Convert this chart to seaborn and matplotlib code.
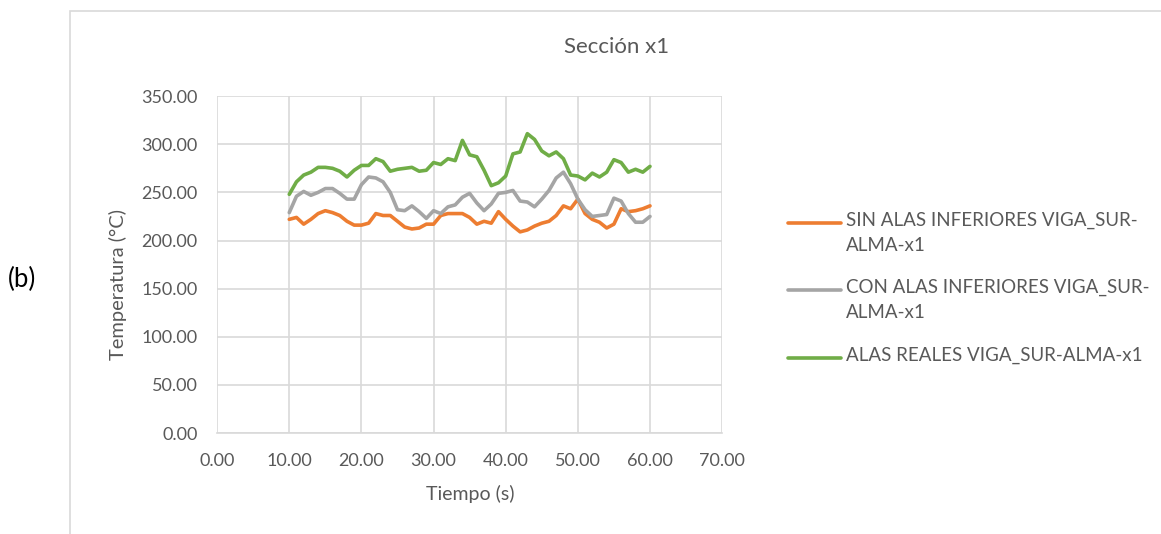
import numpy as np
import pandas as pd
import matplotlib.pyplot as plt
import seaborn as sns
from matplotlib.lines import Line2D
from matplotlib.patches import Rectangle

# --- data (one value per second, 10..60 s) ---
tiempo = list(range(10, 61))

sin_alas = [222, 224, 217, 222, 228, 231, 229, 226, 220, 216,
            216, 218, 228, 226, 226, 220, 214, 212, 213, 217,
            217, 226, 228, 228, 228, 224, 217, 220, 218, 230,
            222, 215, 209, 211, 215, 218, 220, 226, 236, 233,
            243, 228, 222, 219, 213, 217, 233, 230, 231, 233, 236]

con_alas = [229, 246, 251, 247, 250, 254, 254, 249, 243, 243,
            258, 266, 265, 261, 250, 232, 231, 236, 230, 223,
            231, 228, 235, 237, 245, 249, 239, 231, 238, 249,
            250, 252, 241, 240, 235, 243, 252, 265, 271, 259,
            243, 232, 225, 226, 227, 244, 241, 228, 219, 219, 225]

alas_reales = [248, 261, 268, 271, 276, 276, 275, 272, 266, 273,
               278, 278, 285, 282, 272, 274, 275, 276, 272, 273,
               281, 279, 285, 283, 304, 289, 287, 273, 257, 260,
               267, 290, 292, 311, 305, 293, 288, 292, 285, 268,
               267, 263, 270, 266, 271, 284, 281, 271, 274, 271, 277]

series_names = ["SIN ALAS INFERIORES VIGA_SUR-ALMA-x1",
                "CON ALAS INFERIORES VIGA_SUR-ALMA-x1",
                "ALAS REALES VIGA_SUR-ALMA-x1"]
legend_labels = ["SIN ALAS INFERIORES VIGA_SUR-\nALMA-x1",
                 "CON ALAS INFERIORES VIGA_SUR-\nALMA-x1",
                 "ALAS REALES VIGA_SUR-ALMA-x1"]
colors = ["#ED7D31", "#A5A5A5", "#70AD47"]

x_ticks = [0, 10, 20, 30, 40, 50, 60, 70]
y_ticks = [0, 50, 100, 150, 200, 250, 300, 350]

df = pd.DataFrame({
    "Tiempo": tiempo * 3,
    "Temp": sin_alas + con_alas + alas_reales,
    "Serie": np.repeat(series_names, len(tiempo)),
})

sns.set_theme(style="whitegrid")
plt.rcParams["font.family"] = ["Lato", "DejaVu Sans"]
TXT = "#595959"
GRID = "#D9D9D9"

fig = plt.figure(figsize=(11.61, 5.34), dpi=100)
ax = fig.add_axes([0.187, 0.189, 0.435, 0.631])

sns.lineplot(data=df, x="Tiempo", y="Temp", hue="Serie", palette=colors,
             linewidth=2.6, legend=False, ax=ax)

ax.set_xlim(0, 70)
ax.set_ylim(0, 350)
ax.set_xticks(x_ticks)
ax.set_yticks(y_ticks)
ax.set_xticklabels([f"{v:.2f}" for v in x_ticks])
ax.set_yticklabels([f"{v:.2f}" for v in y_ticks])
ax.tick_params(colors=TXT, labelsize=13, length=0, pad=14)
ax.grid(True, color=GRID, linewidth=1.2)
for s in ["top", "right", "left"]:
    ax.spines[s].set_visible(False)
ax.spines["bottom"].set_color(GRID)
ax.spines["bottom"].set_linewidth(1.2)

ax.set_xlabel("Tiempo (s)", color=TXT, fontsize=14, va="center")
ax.set_ylabel("Temperatura (°C)", color=TXT, fontsize=14.5, va="center")
ax.xaxis.set_label_coords(0.501, -0.181)
ax.yaxis.set_label_coords(-0.196, 0.44)

fig.text(617 / 1161, 1 - 47 / 534, "Sección x1", ha="center", va="center",
         color=TXT, fontsize=16)
fig.text(8 / 1161, 1 - 279 / 534, "(b)", ha="left", va="center",
         color="black", fontsize=18.5)

# chart area border
fig.add_artist(Rectangle((0.060, -0.1), 1.2, 1.079, transform=fig.transFigure,
                         fill=False, edgecolor=GRID, linewidth=1.2))

# legend (handle aligned to the first line of each label)
leg_y = [223, 290, 358]
for lbl, col, yp in zip(legend_labels, colors, leg_y):
    yf = 1 - yp / 534
    fig.add_artist(Line2D([788 / 1161, 841 / 1161], [yf, yf], color=col,
                          linewidth=2.6, transform=fig.transFigure))
    fig.text(846 / 1161, 1 - (yp - 11) / 534, lbl, ha="left", va="top",
             color=TXT, fontsize=13.5, linespacing=1.55)

fig.savefig("out.png", dpi=100)
